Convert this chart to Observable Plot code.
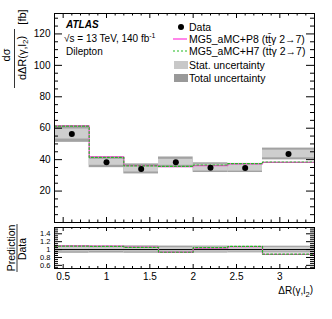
<!DOCTYPE html>
<html><head><meta charset="utf-8">
<script src="https://cdn.jsdelivr.net/npm/d3@7"></script>
<script src="https://cdn.jsdelivr.net/npm/@observablehq/plot@0.6"></script>
<style>
body{margin:0;background:#fff;}
#chart{position:relative;width:332px;height:319px;font-family:"Liberation Sans",Arial,sans-serif;}
#chart svg{position:absolute;left:0;overflow:visible;background:none;}
</style></head><body><div id="chart"></div>
<script>
// ---- data ----
const binEdges = [0.4, 0.8, 1.2, 1.6, 2.0, 2.4, 2.8, 3.4];
const dataValues = [56.3, 38.3, 34.1, 38.3, 34.9, 34.7, 43.6];
const statUnc = [3.2, 1.9, 1.95, 1.9, 2.15, 2.0, 2.45];
const totalUnc = [5.3, 3.4, 3.2, 3.4, 3.1, 2.9, 3.75];
const predP8 = [61.5, 41.7, 36.2, 35.5, 36.2, 37.3, 38.3];
const predH7 = [61.3, 41.5, 36.0, 35.7, 36.6, 37.5, 38.5];
const yMajorTicks = [20, 40, 60, 80, 100, 120];
const yMinorTicks = [5,10,15,25,30,35,45,50,55,65,70,75,85,90,95,105,110,115,125,130];
const xMajorTicks = [0.5, 1, 1.5, 2, 2.5, 3];
const xMinorTicks = [0.4,0.6,0.7,0.8,0.9,1.1,1.2,1.3,1.4,1.6,1.7,1.8,1.9,2.1,2.2,2.3,2.4,2.6,2.7,2.8,2.9,3.1,3.2,3.3,3.4];
const rMajorTicks = [0.6, 0.8, 1, 1.2, 1.4];
const rMinorTicks = [0.55,0.65,0.7,0.75,0.85,0.9,0.95,1.05,1.1,1.15,1.25,1.3,1.35,1.45,1.5,1.55];
const legendLabels = ["Data", "MG5_aMC+P8 (tt\u0304γ 2→7)", "MG5_aMC+H7 (tt\u0304γ 2→7)", "Stat. uncertainty", "Total uncertainty"];

// ---- derived tables ----
const bins = dataValues.map((v, i) => ({
  x1: binEdges[i], x2: binEdges[i + 1], xc: (binEdges[i] + binEdges[i + 1]) / 2,
  data: v, stat: statUnc[i], total: totalUnc[i], p8: predP8[i], h7: predH7[i]
}));
const steps = vals => binEdges.map((e, i) => ({x: e, y: vals[Math.min(i, vals.length - 1)]}));
const ratioOf = key => bins.map(b => b[key] / b.data);

const FONT = '"Liberation Sans", Arial, sans-serif';
const W = 332, ML = 54, MR = 18, innerW = W - ML - MR;
const mainH = 225, mainMT = 13, mainMB = 3, mainInnerH = mainH - mainMT - mainMB;
const rH = 94, rMT = 2, rMB = 51, rInnerH = rH - rMT - rMB;
const cTotal = "#a2a2a2", cStat = "#cecece", cP8 = "#ff44dd", cH7 = "#22bb22";

function frameTicks(innerH, xMajLen, xMinLen, yMaj, yMin, yMajLen, yMinLen) {
  return [
    Plot.tickY(yMaj, {y: d => d, insetRight: innerW - yMajLen, stroke: "black"}),
    Plot.tickY(yMaj, {y: d => d, insetLeft: innerW - yMajLen, stroke: "black"}),
    Plot.tickY(yMin, {y: d => d, insetRight: innerW - yMinLen, stroke: "black"}),
    Plot.tickY(yMin, {y: d => d, insetLeft: innerW - yMinLen, stroke: "black"}),
    Plot.tickX(xMajorTicks, {x: d => d, insetTop: innerH - xMajLen, stroke: "black"}),
    Plot.tickX(xMajorTicks, {x: d => d, insetBottom: innerH - xMajLen, stroke: "black"}),
    Plot.tickX(xMinorTicks, {x: d => d, insetTop: innerH - xMinLen, stroke: "black"}),
    Plot.tickX(xMinorTicks, {x: d => d, insetBottom: innerH - xMinLen, stroke: "black"})
  ];
}

const main = Plot.plot({
  width: W, height: mainH, marginLeft: ML, marginRight: MR, marginTop: mainMT, marginBottom: mainMB,
  style: {fontFamily: FONT, fontSize: "10px", background: "none"},
  x: {domain: [0.4, 3.4], axis: null},
  y: {domain: [0, 133], axis: null},
  marks: [
    Plot.rect(bins, {x1: "x1", x2: "x2", y1: d => d.data - d.total, y2: d => d.data + d.total, fill: cTotal}),
    Plot.rect(bins, {x1: "x1", x2: "x2", y1: d => d.data - d.stat, y2: d => d.data + d.stat, fill: cStat}),
    Plot.line(steps(predP8), {x: "x", y: "y", curve: "step-after", stroke: cP8, strokeWidth: 1.3}),
    Plot.line(steps(predH7), {x: "x", y: "y", curve: "step-after", stroke: cH7, strokeWidth: 1.2, strokeDasharray: "2,2"}),
    Plot.dot(bins, {x: "xc", y: "data", r: 3, fill: "black", stroke: null}),
    ...frameTicks(mainInnerH, 5, 2.5, yMajorTicks, yMinorTicks, 8, 4),
    Plot.frame({stroke: "black"}),
    Plot.axisY({ticks: yMajorTicks, tickSize: 0, tickPadding: 4, label: null, fontSize: 10, tickFormat: d => String(d)})
  ]
});

const ratio = Plot.plot({
  width: W, height: rH, marginLeft: ML, marginRight: MR, marginTop: rMT, marginBottom: rMB,
  style: {fontFamily: FONT, fontSize: "10px", background: "none"},
  x: {domain: [0.4, 3.4], axis: null},
  y: {domain: [0.52, 1.56], axis: null},
  marks: [
    Plot.rect(bins, {x1: "x1", x2: "x2", y1: d => 1 - d.total / d.data, y2: d => 1 + d.total / d.data, fill: cTotal}),
    Plot.rect(bins, {x1: "x1", x2: "x2", y1: d => 1 - d.stat / d.data, y2: d => 1 + d.stat / d.data, fill: cStat}),
    Plot.ruleY([1], {stroke: "black", strokeWidth: 1}),
    Plot.line(steps(ratioOf("p8")), {x: "x", y: "y", curve: "step-after", stroke: cP8, strokeWidth: 1.3}),
    Plot.line(steps(ratioOf("h7")), {x: "x", y: "y", curve: "step-after", stroke: cH7, strokeWidth: 1.2, strokeDasharray: "2,2"}),
    ...frameTicks(rInnerH, 4, 2, rMajorTicks, rMinorTicks, 8, 4),
    Plot.frame({stroke: "black"}),
    Plot.axisY({ticks: rMajorTicks, tickSize: 0, tickPadding: 4, label: null, fontSize: 7.5, tickFormat: d => String(d)}),
    Plot.axisX({ticks: xMajorTicks, tickSize: 0, tickPadding: 4, label: null, fontSize: 10, tickFormat: d => String(d)})
  ]
});

const chart = document.getElementById("chart");
main.style.top = "0px";
ratio.style.top = mainH + "px";
chart.append(main, ratio);

// ---- annotations (real text) ----
const sm = d3.select(main);
const ann = sm.append("g").attr("font-family", FONT).attr("fill", "black").attr("text-anchor", "start");

// y-axis label (fraction)
ann.append("text").attr("transform", "translate(10,55) rotate(-90)").attr("text-anchor", "middle")
  .attr("font-size", 11).text("dσ");
ann.append("line").attr("x1", 14.5).attr("x2", 14.5).attr("y1", 29).attr("y2", 88).attr("stroke", "black").attr("stroke-width", 0.8);
const den = ann.append("text").attr("transform", "translate(26,58) rotate(-90)").attr("text-anchor", "middle").attr("font-size", 11);
den.append("tspan").text("dΔR(γ,l");
den.append("tspan").attr("font-size", 8).attr("dy", "0.3em").text("2");
den.append("tspan").attr("dy", "-0.3em").text(")");
ann.append("text").attr("transform", "translate(26,17) rotate(-90)").attr("text-anchor", "middle").attr("font-size", 11).text("[fb]");

// ATLAS block
ann.append("text").attr("x", 66).attr("y", 24).attr("dy", "0.35em").attr("font-size", 10)
  .attr("font-weight", "bold").attr("font-style", "italic").text("ATLAS");
const sq = ann.append("text").attr("x", 64).attr("y", 38).attr("dy", "0.35em").attr("font-size", 10);
sq.append("tspan").text("√s = 13 TeV, 140 fb");
sq.append("tspan").attr("font-size", 7).attr("dy", "-0.55em").text("-1");
ann.append("text").attr("x", 66).attr("y", 51).attr("dy", "0.35em").attr("font-size", 10).text("Dilepton");

// legend
const lx = 189;
ann.append("circle").attr("cx", 181).attr("cy", 27).attr("r", 3);
ann.append("line").attr("x1", 173).attr("x2", 187).attr("y1", 39).attr("y2", 39).attr("stroke", cP8).attr("stroke-width", 1.3);
ann.append("line").attr("x1", 173).attr("x2", 187).attr("y1", 51).attr("y2", 51).attr("stroke", cH7).attr("stroke-width", 1.2).attr("stroke-dasharray", "2,2");
ann.append("rect").attr("x", 174).attr("y", 61).attr("width", 14).attr("height", 8).attr("fill", "#c8c8c8");
ann.append("rect").attr("x", 174).attr("y", 74).attr("width", 14).attr("height", 8).attr("fill", "#999999");
const legendY = [27, 39, 51, 65, 78];
legendLabels.forEach((t, i) => {
  ann.append("text").attr("x", lx).attr("y", legendY[i]).attr("dy", "0.35em").attr("font-size", 10.5).text(t);
});

// ratio labels
const sr = d3.select(ratio);
const rann = sr.append("g").attr("font-family", FONT).attr("fill", "black").attr("text-anchor", "start");
rann.append("text").attr("transform", "translate(15,23) rotate(-90)").attr("text-anchor", "middle").attr("font-size", 10.5).text("Prediction");
rann.append("line").attr("x1", 17).attr("x2", 17).attr("y1", -1).attr("y2", 47).attr("stroke", "black").attr("stroke-width", 0.8);
rann.append("text").attr("transform", "translate(26,24) rotate(-90)").attr("text-anchor", "middle").attr("font-size", 10.5).text("Data");
const xl = rann.append("text").attr("x", 313).attr("y", 69).attr("text-anchor", "end").attr("font-size", 10);
xl.append("tspan").text("ΔR(γ,l");
xl.append("tspan").attr("font-size", 7.5).attr("dy", "0.35em").text("2");
xl.append("tspan").attr("dy", "-0.35em").text(")");
</script></body></html>
